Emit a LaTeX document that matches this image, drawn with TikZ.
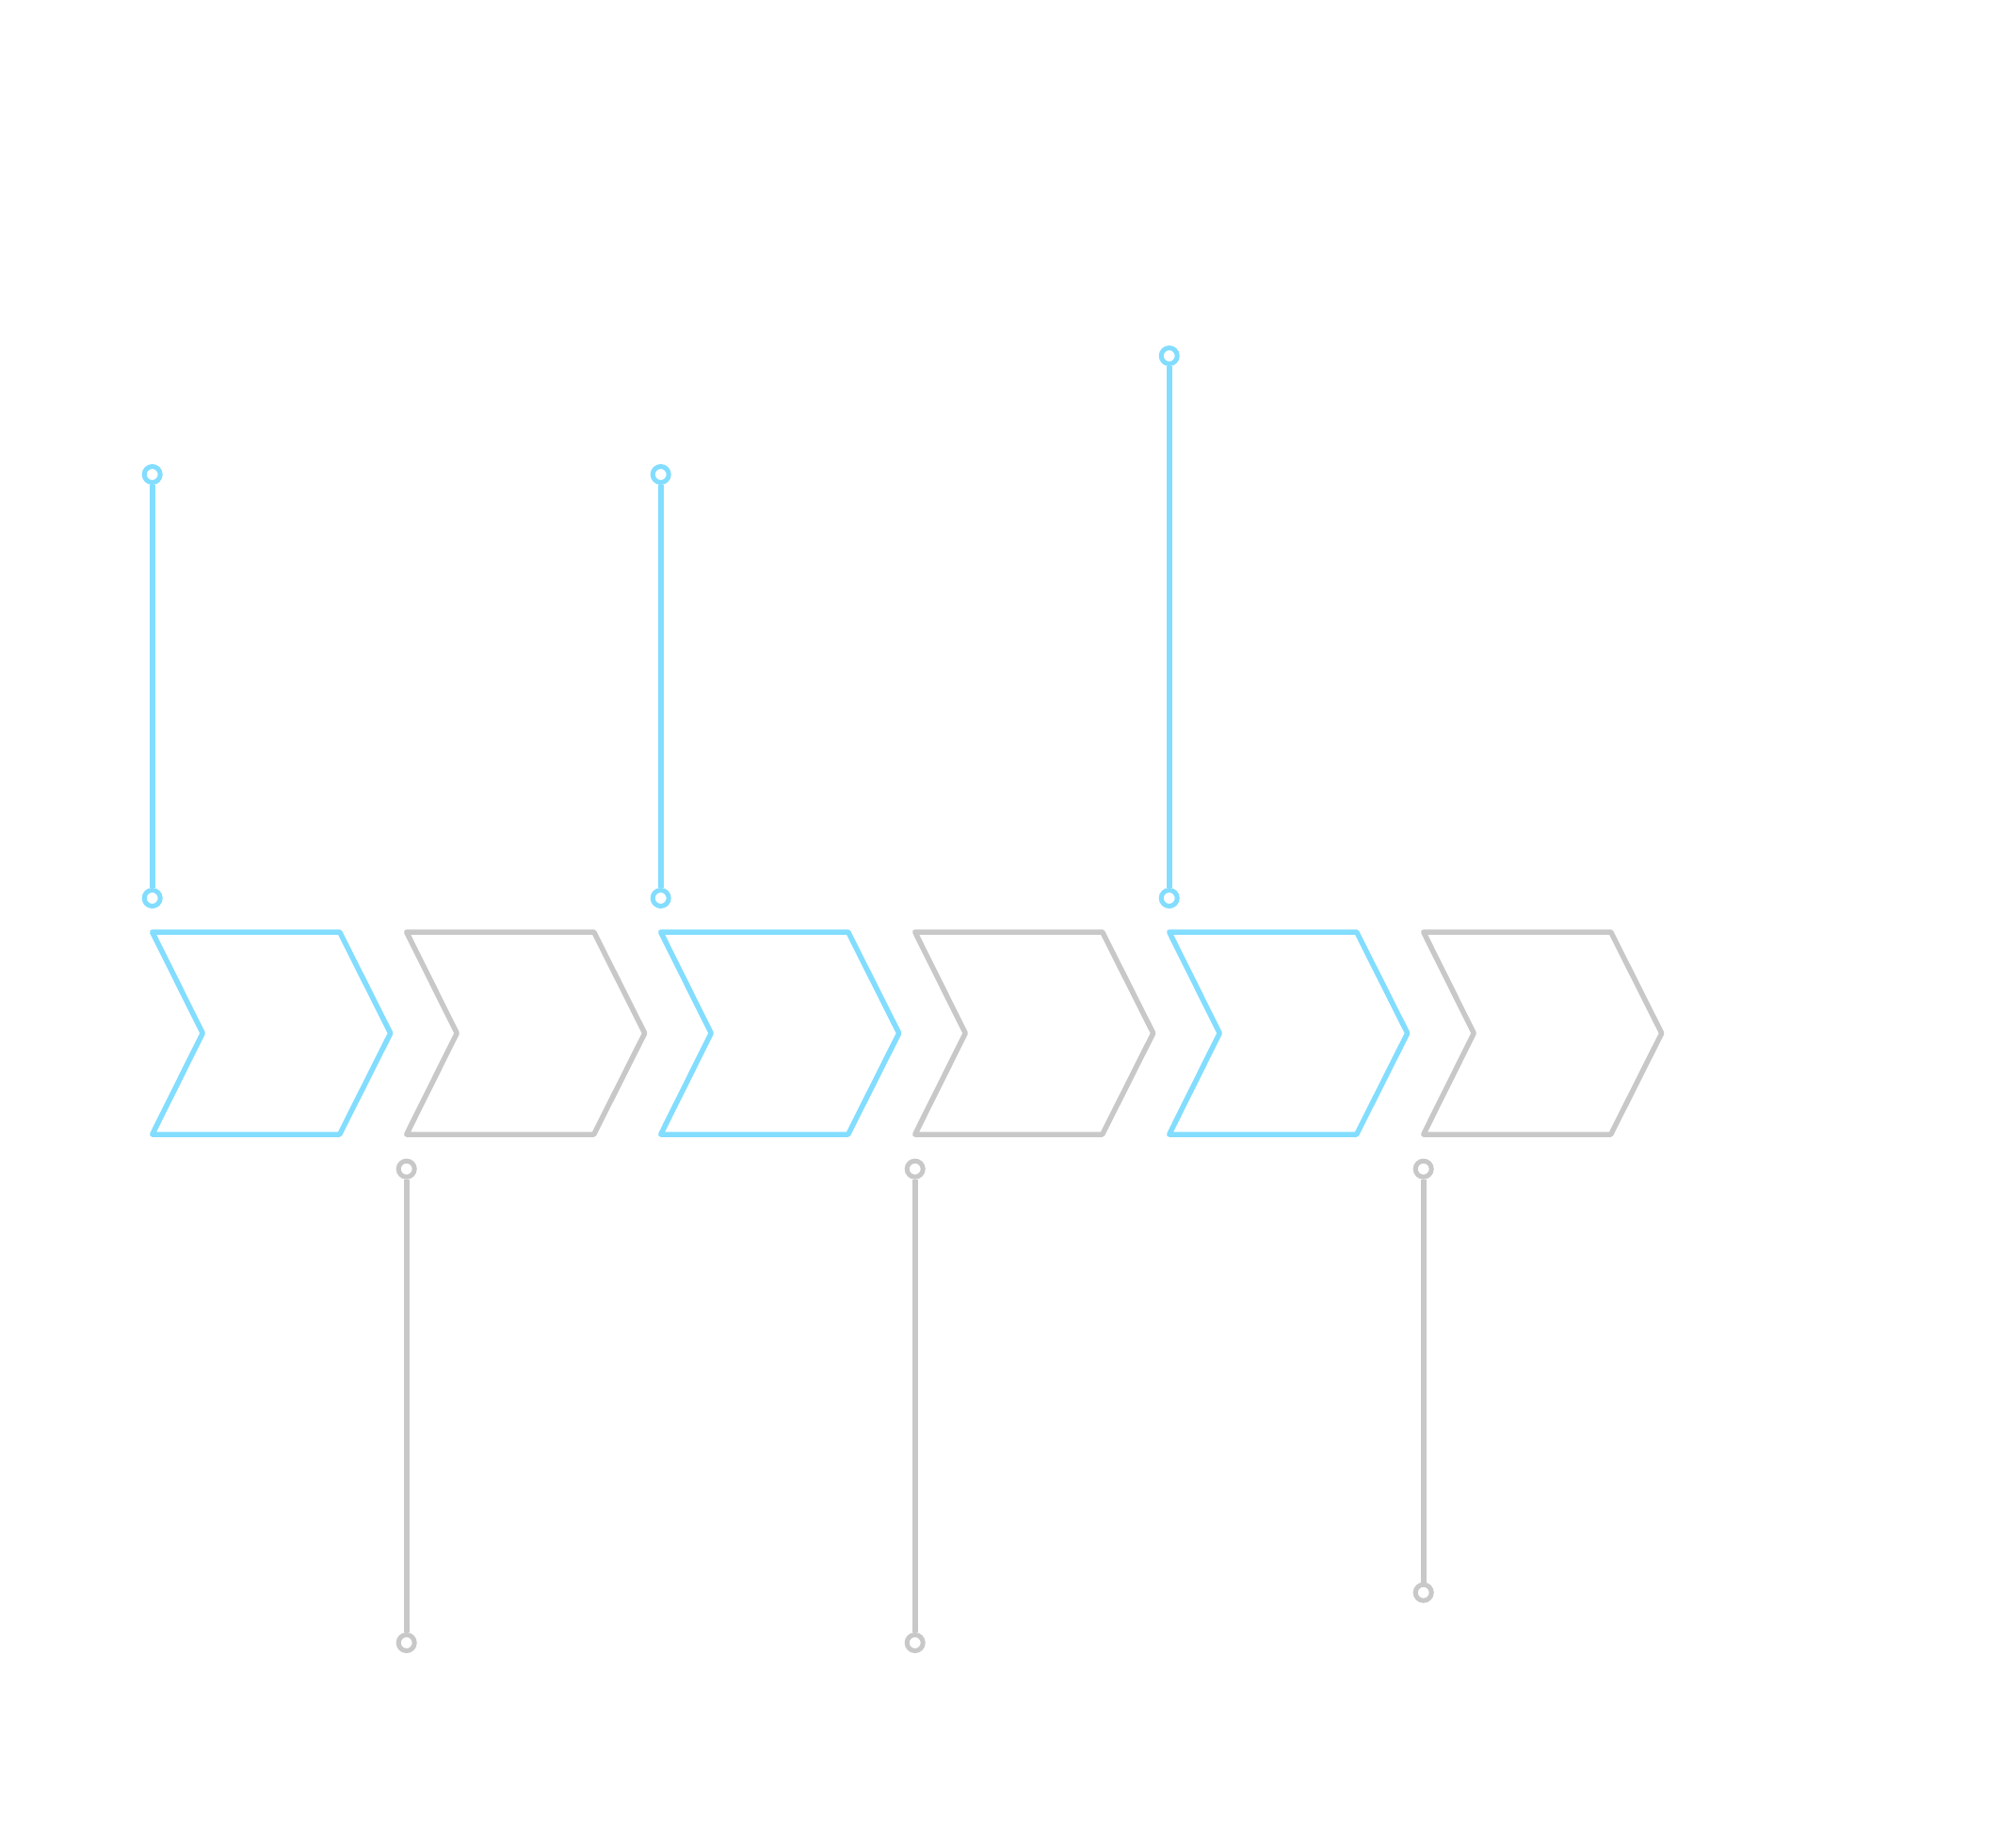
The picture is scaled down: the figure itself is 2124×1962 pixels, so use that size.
\documentclass[tikz,border=0pt]{standalone}
\definecolor{pinblue}{RGB}{130,221,255}
\definecolor{pingray}{RGB}{200,200,200}
\tikzset{
  chev/.style={line width=5.5pt, line join=round, line cap=round},
  pinline/.style={line width=6pt},
  pinend/.style={circle, draw, line width=5pt, fill=white, inner sep=0pt, minimum size=17pt},
}
\begin{document}
\begin{tikzpicture}[x=1pt,y=-1pt]
\useasboundingbox (0,0) rectangle (2124,1962);
% chevrons
\foreach \i/\c in {0/pinblue,1/pingray,2/pinblue,3/pingray,4/pinblue,5/pingray}{
  \pgfmathsetmacro{\xl}{161.7+270*\i}
  \draw[chev, draw=\c] (\xl,990) -- ++(199,0) -- ++(54,107.5) -- ++(-54,107.5) -- ++(-199,0) -- ++(53.5,-107.5) -- cycle;
}
% blue pins (above)
\node[pinend, draw=pinblue] (b0t) at (161.7,504) {};
\node[pinend, draw=pinblue] (b0b) at (161.7,954) {};
\node[pinend, draw=pinblue] (b2t) at (701.7,504) {};
\node[pinend, draw=pinblue] (b2b) at (701.7,954) {};
\node[pinend, draw=pinblue] (b4t) at (1241.7,378) {};
\node[pinend, draw=pinblue] (b4b) at (1241.7,954) {};
\draw[pinline, pinblue] (b0t) -- (b0b);
\draw[pinline, pinblue] (b2t) -- (b2b);
\draw[pinline, pinblue] (b4t) -- (b4b);
% gray pins (below)
\node[pinend, draw=pingray] (g1t) at (431.7,1241.7) {};
\node[pinend, draw=pingray] (g1b) at (431.7,1745) {};
\node[pinend, draw=pingray] (g3t) at (971.7,1241.7) {};
\node[pinend, draw=pingray] (g3b) at (971.7,1745) {};
\node[pinend, draw=pingray] (g5t) at (1511.7,1241.7) {};
\node[pinend, draw=pingray] (g5b) at (1511.7,1691.7) {};
\draw[pinline, pingray] (g1t) -- (g1b);
\draw[pinline, pingray] (g3t) -- (g3b);
\draw[pinline, pingray] (g5t) -- (g5b);
\end{tikzpicture}
\end{document}
